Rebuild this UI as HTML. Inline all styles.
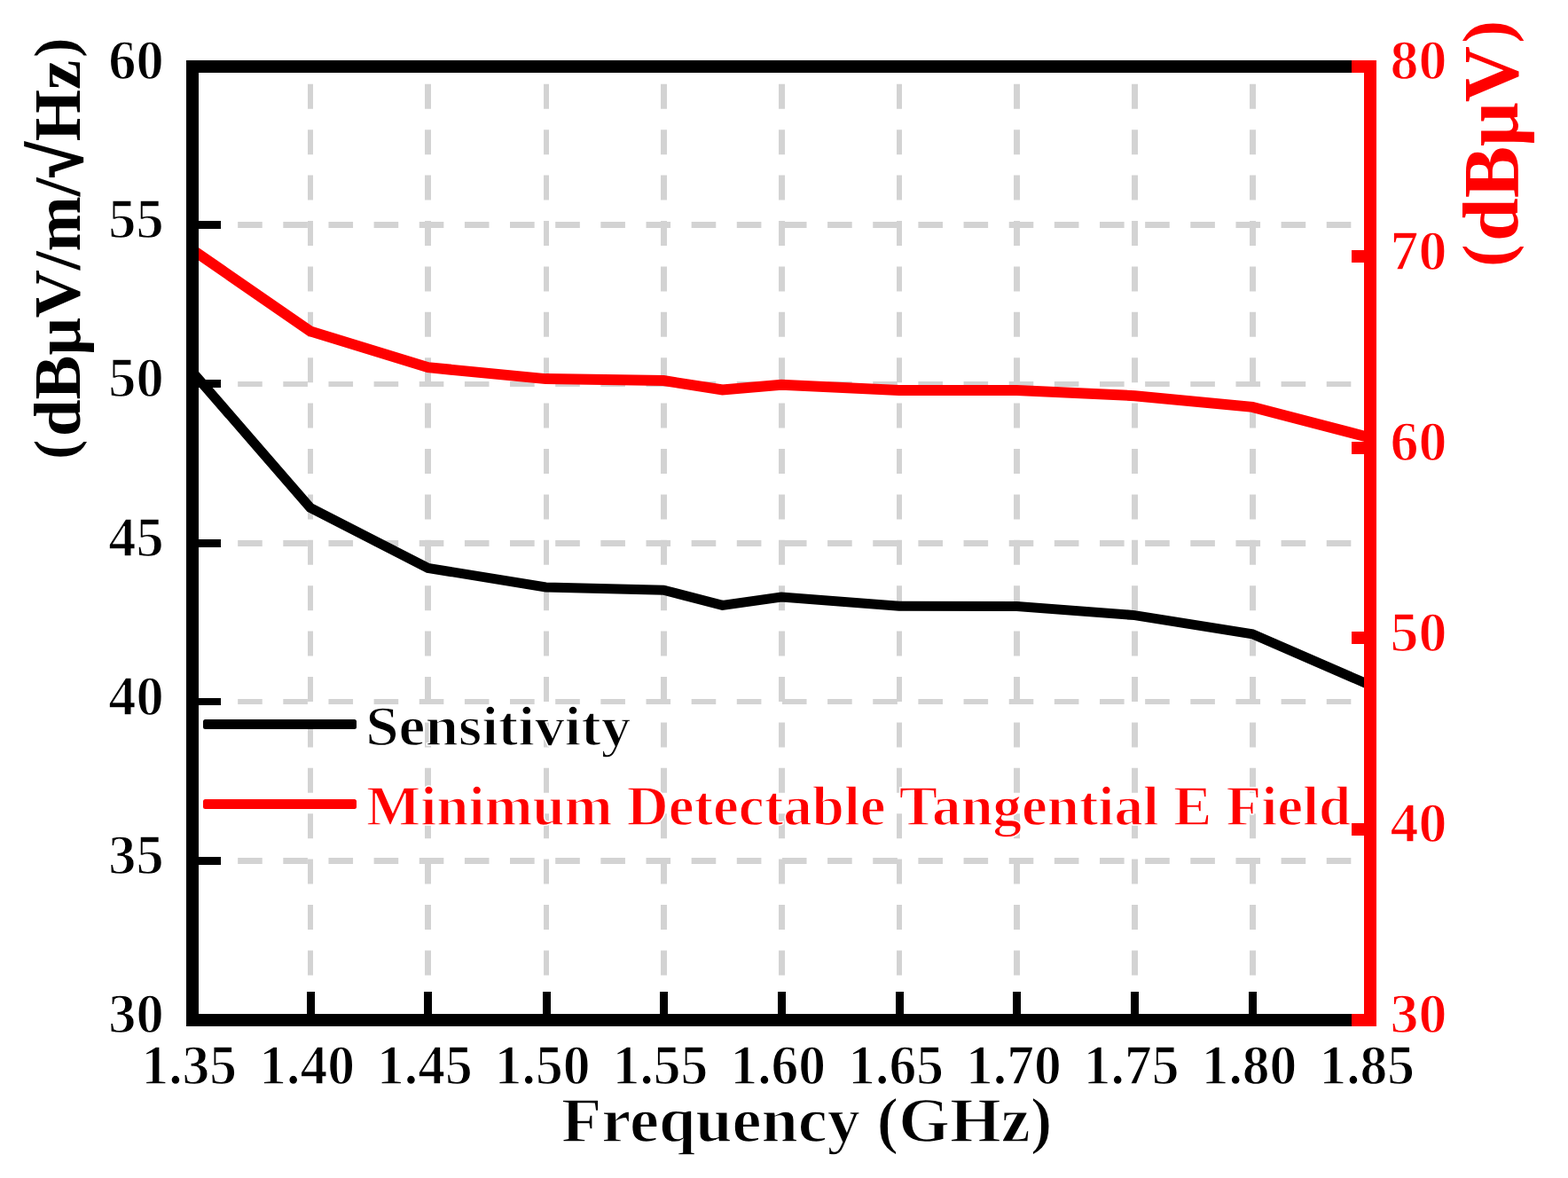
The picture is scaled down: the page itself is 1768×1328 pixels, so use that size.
<!DOCTYPE html>
<html><head><meta charset="utf-8"><style>
html,body{margin:0;padding:0;background:#fff;overflow:hidden}
svg{display:block}
</style></head><body>
<svg width="1768" height="1328" viewBox="0 0 1768 1328">
<rect width="1768" height="1328" fill="#fff"/>
<g stroke="#d3d3d3" stroke-width="6" fill="none">
<line x1="350.0" y1="1150.8" x2="350.0" y2="82.0" stroke-width="6" stroke-dasharray="28 23.4"/>
<line x1="482.5" y1="1150.8" x2="482.5" y2="82.0" stroke-width="7" stroke-dasharray="28 23.4"/>
<line x1="616.0" y1="1150.8" x2="616.0" y2="82.0" stroke-width="6" stroke-dasharray="28 23.4"/>
<line x1="748.5" y1="1150.8" x2="748.5" y2="82.0" stroke-width="7" stroke-dasharray="28 23.4"/>
<line x1="881.5" y1="1150.8" x2="881.5" y2="82.0" stroke-width="7" stroke-dasharray="28 23.4"/>
<line x1="1014.0" y1="1150.8" x2="1014.0" y2="82.0" stroke-width="6" stroke-dasharray="28 23.4"/>
<line x1="1146.5" y1="1150.8" x2="1146.5" y2="82.0" stroke-width="7" stroke-dasharray="28 23.4"/>
<line x1="1279.5" y1="1150.8" x2="1279.5" y2="82.0" stroke-width="7" stroke-dasharray="28 23.4"/>
<line x1="1412.5" y1="1150.8" x2="1412.5" y2="82.0" stroke-width="7" stroke-dasharray="28 23.4"/>
<line x1="217.0" y1="253.5" x2="1538.0" y2="253.5" stroke-width="7" stroke-dasharray="27.6 23.55"/>
<line x1="217.0" y1="433.0" x2="1538.0" y2="433.0" stroke-width="6" stroke-dasharray="27.6 23.55"/>
<line x1="217.0" y1="612.5" x2="1538.0" y2="612.5" stroke-width="7" stroke-dasharray="27.6 23.55"/>
<line x1="217.0" y1="791.0" x2="1538.0" y2="791.0" stroke-width="6" stroke-dasharray="27.6 23.55"/>
<line x1="217.0" y1="970.5" x2="1538.0" y2="970.5" stroke-width="7" stroke-dasharray="27.6 23.55"/>
</g>
<polyline points="217.0,281.6 349.8,373.4 482.6,414.2 615.4,427.1 748.2,429.1 814.6,439.4 881.0,433.8 1013.8,440.0 1146.6,440.1 1279.4,446.2 1412.2,458.9 1545.0,493.5" fill="none" stroke="#ff0000" stroke-width="12" stroke-linejoin="miter"/>
<polyline points="217.0,419.3 349.8,572.4 482.6,640.4 615.4,661.9 748.2,665.2 814.6,682.4 881.0,673.0 1013.8,683.3 1146.6,683.5 1279.4,693.6 1412.2,714.8 1545.0,772.5" fill="none" stroke="#000" stroke-width="11" stroke-linejoin="miter"/>
<rect x="217.0" y="75.0" width="1328.0" height="1075.0" fill="none" stroke="#000" stroke-width="14"/>
<rect x="224" y="249" width="25" height="9" fill="#000"/>
<rect x="224" y="428" width="25" height="9" fill="#000"/>
<rect x="224" y="608" width="25" height="9" fill="#000"/>
<rect x="224" y="787" width="25" height="8" fill="#000"/>
<rect x="224" y="966" width="25" height="9" fill="#000"/>
<rect x="346" y="1118" width="9" height="25" fill="#000"/>
<rect x="478" y="1118" width="9" height="25" fill="#000"/>
<rect x="612" y="1118" width="9" height="25" fill="#000"/>
<rect x="744" y="1118" width="9" height="25" fill="#000"/>
<rect x="877" y="1118" width="9" height="25" fill="#000"/>
<rect x="1010" y="1118" width="9" height="25" fill="#000"/>
<rect x="1142" y="1118" width="9" height="25" fill="#000"/>
<rect x="1275" y="1118" width="9" height="25" fill="#000"/>
<rect x="1408" y="1118" width="9" height="25" fill="#000"/>
<rect x="1538.0" y="68.0" width="14" height="1089.0" fill="#ff0000"/>
<rect x="1524.0" y="68.0" width="28" height="14" fill="#ff0000"/>
<rect x="1524.0" y="1143.0" width="28" height="14" fill="#ff0000"/>
<rect x="1524.0" y="282" width="14" height="14" fill="#ff0000"/>
<rect x="1524.0" y="498" width="14" height="14" fill="#ff0000"/>
<rect x="1524.0" y="712" width="14" height="14" fill="#ff0000"/>
<rect x="1524.0" y="928" width="14" height="14" fill="#ff0000"/>
<rect x="229" y="810.9" width="173" height="11" rx="2.5" fill="#000"/>
<rect x="229" y="901.0" width="173" height="11" rx="2.5" fill="#ff0000"/>
<g font-family='"Liberation Serif", serif' font-weight="bold" stroke="#fff" stroke-width="1.4">
<text x="412.2" y="840" font-size="64" textLength="299.2" lengthAdjust="spacingAndGlyphs" fill="#000">Sensitivity</text>
<text x="413.1" y="930" font-size="64" textLength="1110" lengthAdjust="spacingAndGlyphs" fill="#ff0000">Minimum Detectable Tangential E Field</text>
<text x="184.6" y="89.0" font-size="64" text-anchor="end" textLength="62.4" lengthAdjust="spacingAndGlyphs">60</text>
<text x="184.6" y="268.2" font-size="64" text-anchor="end" textLength="62.4" lengthAdjust="spacingAndGlyphs">55</text>
<text x="184.6" y="447.3" font-size="64" text-anchor="end" textLength="62.4" lengthAdjust="spacingAndGlyphs">50</text>
<text x="184.6" y="626.5" font-size="64" text-anchor="end" textLength="62.4" lengthAdjust="spacingAndGlyphs">45</text>
<text x="184.6" y="805.7" font-size="64" text-anchor="end" textLength="62.4" lengthAdjust="spacingAndGlyphs">40</text>
<text x="184.6" y="984.8" font-size="64" text-anchor="end" textLength="62.4" lengthAdjust="spacingAndGlyphs">35</text>
<text x="184.6" y="1164.0" font-size="64" text-anchor="end" textLength="62.4" lengthAdjust="spacingAndGlyphs">30</text>
<text x="1567.6" y="88.6" font-size="64" textLength="64" lengthAdjust="spacingAndGlyphs" fill="#ff0000">80</text>
<text x="1567.6" y="303.6" font-size="64" textLength="64" lengthAdjust="spacingAndGlyphs" fill="#ff0000">70</text>
<text x="1567.6" y="518.6" font-size="64" textLength="64" lengthAdjust="spacingAndGlyphs" fill="#ff0000">60</text>
<text x="1567.6" y="733.6" font-size="64" textLength="64" lengthAdjust="spacingAndGlyphs" fill="#ff0000">50</text>
<text x="1567.6" y="948.6" font-size="64" textLength="64" lengthAdjust="spacingAndGlyphs" fill="#ff0000">40</text>
<text x="1567.6" y="1163.6" font-size="64" textLength="64" lengthAdjust="spacingAndGlyphs" fill="#ff0000">30</text>
<text x="213.3" y="1222" font-size="64" text-anchor="middle" textLength="107.7" lengthAdjust="spacingAndGlyphs">1.35</text>
<text x="346.1" y="1222" font-size="64" text-anchor="middle" textLength="107.7" lengthAdjust="spacingAndGlyphs">1.40</text>
<text x="478.9" y="1222" font-size="64" text-anchor="middle" textLength="107.7" lengthAdjust="spacingAndGlyphs">1.45</text>
<text x="611.7" y="1222" font-size="64" text-anchor="middle" textLength="107.7" lengthAdjust="spacingAndGlyphs">1.50</text>
<text x="744.5" y="1222" font-size="64" text-anchor="middle" textLength="107.7" lengthAdjust="spacingAndGlyphs">1.55</text>
<text x="877.3" y="1222" font-size="64" text-anchor="middle" textLength="107.7" lengthAdjust="spacingAndGlyphs">1.60</text>
<text x="1010.1" y="1222" font-size="64" text-anchor="middle" textLength="107.7" lengthAdjust="spacingAndGlyphs">1.65</text>
<text x="1142.9" y="1222" font-size="64" text-anchor="middle" textLength="107.7" lengthAdjust="spacingAndGlyphs">1.70</text>
<text x="1275.7" y="1222" font-size="64" text-anchor="middle" textLength="107.7" lengthAdjust="spacingAndGlyphs">1.75</text>
<text x="1408.5" y="1222" font-size="64" text-anchor="middle" textLength="107.7" lengthAdjust="spacingAndGlyphs">1.80</text>
<text x="1541.3" y="1222" font-size="64" text-anchor="middle" textLength="107.7" lengthAdjust="spacingAndGlyphs">1.85</text>
<text x="633" y="1287" font-size="72" textLength="553.5" lengthAdjust="spacingAndGlyphs">Frequency (GHz)</text>
<g stroke="none">
<text transform="translate(83.6,517.4) rotate(-90)" font-size="64.5">(</text>
<text transform="translate(90,492.1) rotate(-90)" font-size="74" textLength="291.76" lengthAdjust="spacingAndGlyphs">dBμV/m/</text>
<text transform="translate(91.5,200.34) rotate(-90)" font-size="80" textLength="39.5" lengthAdjust="spacingAndGlyphs" stroke="#000" stroke-width="3.2">√</text>
<text transform="translate(90,159.29) rotate(-90)" font-size="74" textLength="91.37" lengthAdjust="spacingAndGlyphs">Hz</text>
<text transform="translate(83.6,64.4) rotate(-90)" font-size="64.5">)</text>
<g fill="#ff0000"><text transform="translate(1702.3,300.7) rotate(-90)" font-size="75.9">(</text>
<text transform="translate(1711,271.9) rotate(-90)" font-size="88" textLength="219.75" lengthAdjust="spacingAndGlyphs">dBμV</text>
<text transform="translate(1702.3,48.5) rotate(-90)" font-size="75.9">)</text></g>
</g>
</g>
</svg>
</body></html>
